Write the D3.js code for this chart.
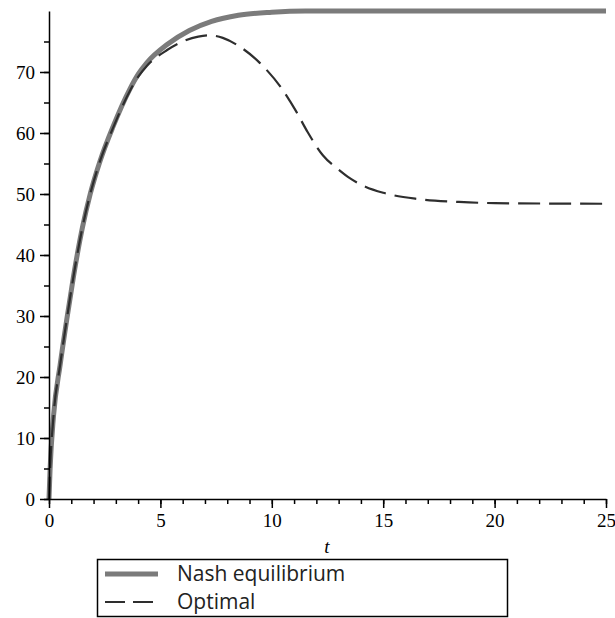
<!DOCTYPE html>
<html>
<head>
<meta charset="utf-8">
<script src="https://cdn.jsdelivr.net/npm/d3@7"></script>
<style>
  body { margin: 0; background: #fff; }
</style>
</head>
<body>
<div class="canva"></div>
<script>
// values
const nashT = [0, 0.05, 0.2, 0.5, 0.8, 1.1, 1.5, 1.85, 2.3, 2.87, 3.63, 4.0, 4.39, 5.3, 6.3, 7.3, 8.5, 10, 11.5, 13, 25];
const nashV = [0, 5, 13.5, 22, 29.5, 36.5, 44.5, 50, 55.5, 61, 67.2, 69.6, 71.5, 74.5, 76.8, 78.3, 79.3, 79.8, 80, 80, 80];

const optT = [0, 0.05, 0.2, 0.5, 0.8, 1.1, 1.5, 1.85, 2.3, 2.87, 3.63, 4.0, 4.39, 5.3, 6.0, 6.7, 7.2, 7.8, 8.5, 9.46, 10.5, 11.1, 11.6, 12.3, 13, 13.5, 14.2, 15, 16.5, 18.4, 20, 25];
const optV = [0, 5, 13.5, 22, 29.5, 36.5, 44.5, 50, 55.5, 60.8, 66.9, 69.2, 71, 73.6, 75, 75.8, 76, 75.6, 74.3, 71.5, 67, 63.5, 60.2, 56.3, 54, 52.6, 51.2, 50.2, 49.2, 48.7, 48.5, 48.4];

const xTicks = [0, 5, 10, 15, 20, 25];
const yTicks = [0, 10, 20, 30, 40, 50, 60, 70];
const legendLabels = ['Nash equilibrium', 'Optimal'];

const svg = d3.select('.canva').append('svg')
    .attr('width', 615)
    .attr('height', 618);

const x = d3.scaleLinear().domain([0, 25]).range([49, 606]);
const y = d3.scaleLinear().domain([0, 80]).range([499, 11]);

// curves
const line = d3.line()
    .x(d => x(d[0]))
    .y(d => y(d[1]))
    .curve(d3.curveMonotoneX);

svg.append('path')
    .datum(nashT.map((t, i) => [t, nashV[i]]))
    .attr('d', line)
    .attr('fill', 'none')
    .attr('stroke', '#7b7b7b')
    .attr('stroke-width', 5);

svg.append('path')
    .datum(optT.map((t, i) => [t, optV[i]]))
    .attr('d', line)
    .attr('fill', 'none')
    .attr('stroke', '#2e2e2e')
    .attr('stroke-width', 2.2)
    .attr('stroke-dasharray', '22,9');

// axes: minor ticks first, then major with labels
const tickFont = '"Liberation Serif", serif';

svg.append('g')
    .attr('transform', 'translate(0,499)')
    .call(d3.axisBottom(x).tickValues(d3.range(0, 26, 1)).tickSize(5).tickFormat(''))
    .call(g => g.select('.domain').remove());

svg.append('g')
    .attr('transform', 'translate(0,499)')
    .call(d3.axisBottom(x).tickValues(xTicks).tickSize(9).tickSizeOuter(0).tickPadding(6))
    .call(g => g.selectAll('text').attr('font-family', tickFont).attr('font-size', 19).attr('fill', '#000'));

svg.append('g')
    .attr('transform', 'translate(49,0)')
    .call(d3.axisLeft(y).tickValues(d3.range(0, 80, 5)).tickSize(5).tickFormat(''))
    .call(g => g.select('.domain').remove());

svg.append('g')
    .attr('transform', 'translate(49,0)')
    .call(d3.axisLeft(y).tickValues(yTicks).tickSize(9).tickSizeOuter(0).tickPadding(5))
    .call(g => g.selectAll('text').attr('font-family', tickFont).attr('font-size', 19).attr('fill', '#000'));

svg.selectAll('.domain, .tick line')
    .attr('stroke', '#000')
    .attr('stroke-width', 1.5);

// axis title
svg.append('text')
    .text('t')
    .attr('x', 327)
    .attr('y', 553)
    .attr('text-anchor', 'middle')
    .attr('font-family', tickFont)
    .attr('font-style', 'italic')
    .attr('font-size', 19);

// legend
const legend = svg.append('g');
legend.append('rect')
    .attr('x', 97.5)
    .attr('y', 559.5)
    .attr('width', 410)
    .attr('height', 57)
    .attr('fill', '#fff')
    .attr('stroke', '#000')
    .attr('stroke-width', 1.5);

const rows = legend.selectAll('g.row')
    .data(legendLabels)
    .join('g')
    .attr('class', 'row')
    .attr('transform', (d, i) => `translate(0,${574 + i * 28})`);

rows.append('line')
    .attr('x1', 105)
    .attr('x2', 158)
    .attr('stroke', (d, i) => i === 0 ? '#7b7b7b' : '#2e2e2e')
    .attr('stroke-width', (d, i) => i === 0 ? 5 : 2.2)
    .attr('stroke-dasharray', (d, i) => i === 0 ? null : '20,8');

rows.append('text')
    .text(d => d)
    .attr('x', 177)
    .attr('y', 7)
    .attr('font-family', '"Open Sans", sans-serif')
    .attr('font-size', 21)
    .attr('fill', '#222');
</script>
</body>
</html>
